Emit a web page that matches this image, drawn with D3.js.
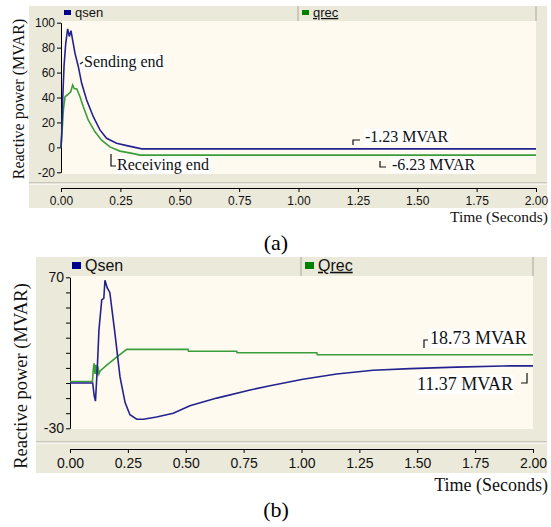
<!DOCTYPE html>
<html>
<head>
<meta charset="utf-8">
<script src="https://cdn.jsdelivr.net/npm/d3@7"></script>
<style>
  body { margin: 0; background: #fff; }
  svg { display: block; }
</style>
</head>
<body>
<svg id="chart" width="551" height="527"></svg>
<script>
// ---- data ----
const xTicks = [0, 0.25, 0.5, 0.75, 1.0, 1.25, 1.5, 1.75, 2.0];

// (a) sending / receiving end, seconds vs MVAR
const aTime = [0, 0.003, 0.007, 0.013, 0.02, 0.028, 0.035, 0.042, 0.049, 0.059, 0.073, 0.087, 0.108, 0.136, 0.164, 0.192, 0.234, 0.277, 0.34, 2.0];
const aQsen = [0, 11, 38, 66, 83.5, 95, 89, 93.6, 86, 75.4, 64.7, 51.4, 38, 24.6, 14, 7.3, 3.3, 1.4, -1.23, -1.23];
const aTimeRec = [0, 0.004, 0.01, 0.017, 0.031, 0.041, 0.049, 0.056, 0.066, 0.08, 0.094, 0.115, 0.143, 0.171, 0.206, 0.248, 0.305, 0.333, 2.0];
const aQrec = [0, 11, 30, 40.6, 42.7, 44.6, 50, 47, 47, 40.6, 32.6, 21.8, 12.5, 5.8, 0.4, -3, -5, -6.23, -6.23];
const aYTicks = [-20, 0, 20, 40, 60, 80, 100];

// (b)
const bTime = [0, 0.098, 0.104, 0.11, 0.118, 0.125, 0.137, 0.146, 0.151, 0.161, 0.172, 0.194, 0.216, 0.238, 0.259, 0.288, 0.317, 0.374, 0.446, 0.518, 0.634, 0.778, 0.864, 1.006, 1.152, 1.309, 1.469, 1.67, 1.87, 2.0];
const bQsen = [0, 0, -8, -12, 10, 35, 55, 56, 68, 63, 60, 33, 4, -13, -21, -24, -24, -22.5, -20, -15, -10, -4.6, -1.8, 2.5, 6, 8.4, 9.5, 10.5, 11.3, 11.37];
const bTimeRec = [0, 0.097, 0.1, 0.104, 0.108, 0.112, 0.116, 0.12, 0.125, 0.13, 0.16, 0.2, 0.245, 0.51, 0.512, 0.72, 0.722, 1.066, 1.068, 2.0];
const bQrec = [1, 1, 8, 13, 6, 12, 5, 11, 6, 8, 12, 17, 22.3, 22.3, 21, 21, 20, 20, 18.73, 18.73];
const bYTicks = [-30, -20, -10, 0, 10, 20, 30, 40, 50, 60, 70];
const bYLabels = [-30, 70];

const seriesNames = { a: ["qsen", "qrec"], b: ["Qsen", "Qrec"] };

const svg = d3.select("#chart");
const BEIGE = "#ebe9da", CREAM = "#fffaf0", BLUE = "#23238f", GREEN = "#3a9d3a";
const SANS = "'Liberation Sans', Arial, sans-serif", SERIF = "'Liberation Serif', 'Times New Roman', serif";

function drawPanel(p) {
    const g = svg.append("g");
    // frame
    g.append("rect").attr("x", p.fx0).attr("y", p.fy0)
        .attr("width", p.fx1 - p.fx0).attr("height", p.fy1 - p.fy0).attr("fill", BEIGE);
    // plot area
    g.append("rect").attr("x", p.px0).attr("y", p.py0)
        .attr("width", p.px1 - p.px0).attr("height", p.py1 - p.py0).attr("fill", CREAM);
    // legend bar dividers
    [p.div1, p.px1].forEach(d => {
        g.append("line").attr("x1", d).attr("x2", d).attr("y1", p.fy0).attr("y2", p.py0)
            .attr("stroke", "#a9a799").attr("stroke-width", 1);
    });
    g.append("line").attr("x1", p.fx0).attr("x2", p.fx1).attr("y1", p.sep).attr("y2", p.sep)
        .attr("stroke", "#a9a799");
    g.append("line").attr("x1", p.fx0).attr("x2", p.fx1).attr("y1", p.sep + 1).attr("y2", p.sep + 1)
        .attr("stroke", "#fff");

    // legend
    const legY = (p.fy0 + p.py0) / 2;
    [[p.leg1, "#00008b", p.names[0]], [p.leg2, "#008000", p.names[1]]].forEach(([lx, c, name], i) => {
        g.append("rect").attr("x", lx).attr("y", legY - p.sq / 2 - 1).attr("width", p.sq + 2).attr("height", p.sq)
            .attr("fill", c);
        const t = g.append("text").attr("x", lx + p.sq + 6).attr("y", legY)
            .attr("dominant-baseline", "middle").style("font-family", SANS).attr("font-size", p.legFont)
            .attr("fill", "#111").text(name);
        if (i === 1) t.attr("text-decoration", "underline");
    });

    const x = d3.scaleLinear().domain([0, 2]).range([p.xr0, p.xr1]);
    const y = d3.scaleLinear().domain(p.yDomain).range(p.yRange);

    // y axis
    const yAxis = g.append("g").attr("transform", `translate(${p.xr0},0)`)
        .call(d3.axisLeft(y).tickValues(p.yTicks).tickSize(4).tickSizeOuter(0)
            .tickFormat(d => p.yLabels.includes(d) ? d : ""));
    yAxis.select(".domain").attr("stroke", "#000");
    yAxis.selectAll("text").style("font-family", SANS).attr("font-size", p.tickFont).attr("fill", "#111").attr("dx", "1");

    // x axis
    const xAxis = g.append("g").attr("transform", `translate(0,${p.xAxisY})`)
        .call(d3.axisBottom(x).tickValues(xTicks).tickSize(4).tickSizeOuter(4).tickFormat(d3.format(".2f")));
    xAxis.select(".domain").attr("stroke", "#000");
    xAxis.selectAll("text").style("font-family", SANS).attr("font-size", p.tickFont).attr("fill", "#111").attr("dy", "0.85em");

    // lines
    const line = d3.line().x(d => x(d[0])).y(d => y(d[1]));
    const sen = p.tSen.map((t, i) => [t, p.vSen[i]]);
    const rec = p.tRec.map((t, i) => [t, p.vRec[i]]);
    g.append("path").datum(rec).attr("d", line).attr("fill", "none").attr("stroke", GREEN).attr("stroke-width", 1.6);
    g.append("path").datum(sen).attr("d", line).attr("fill", "none").attr("stroke", BLUE).attr("stroke-width", 1.6);

    // y label
    g.append("text").attr("transform", `translate(${p.ylx},${p.yly}) rotate(-90)`)
        .attr("text-anchor", "middle").attr("dominant-baseline", "middle")
        .style("font-family", SERIF).attr("font-size", p.ylFont).attr("fill", "#111")
        .text("Reactive power (MVAR)");
    // x label
    g.append("text").attr("x", p.fx1 + 1).attr("y", p.xly).attr("text-anchor", "end")
        .style("font-family", SERIF).attr("font-size", p.serifFont).attr("fill", "#111")
        .text("Time (Seconds)");
    // caption
    g.append("text").attr("x", 276).attr("y", p.capY).attr("text-anchor", "middle")
        .style("font-family", SERIF).attr("font-size", 22).attr("fill", "#000").text(p.caption);

    // annotations with white boxes and small pointer marks
    p.notes.forEach(n => {
        const t = g.append("text").attr("x", n.x).attr("y", n.y)
            .style("font-family", SERIF).attr("font-size", p.noteFont).attr("fill", "#111").text(n.text);
        const b = t.node().getBBox();
        g.insert("rect", () => t.node()).attr("x", b.x - 1).attr("y", b.y + 1)
            .attr("width", b.width + 2).attr("height", b.height - 1).attr("fill", "#fff");
        g.append("path").attr("d", n.mark).attr("fill", "none").attr("stroke", "#111").attr("stroke-width", 1.2);
    });
}

drawPanel({
    fx0: 29, fx1: 547, fy0: 6, fy1: 208,
    px0: 62, px1: 536, py0: 21, py1: 174,
    div1: 298, sep: 183, xAxisY: 188,
    leg1: 64, leg2: 302, sq: 5, legFont: 13,
    xr0: 61, xr1: 536, yDomain: [-20, 100], yRange: [172.3, 22.7],
    yTicks: aYTicks, yLabels: aYTicks, tickFont: 12,
    tSen: aTime, vSen: aQsen, tRec: aTimeRec, vRec: aQrec,
    names: seriesNames.a,
    ylx: 20, yly: 99, ylFont: 16, xly: 222, serifFont: 15.5, capY: 250, caption: "(a)",
    noteFont: 16,
    notes: [
        { text: "Sending end", x: 84, y: 67, mark: "M80,64 L83,62" },
        { text: "Receiving end", x: 117, y: 170, mark: "M111,154 L111,166 L116,166" },
        { text: "-1.23 MVAR", x: 365, y: 142, mark: "M353,145 L353,140 L360,140" },
        { text: "-6.23 MVAR", x: 392, y: 170, mark: "M380,161 L380,167 L386,167" }
    ]
});

drawPanel({
    fx0: 36, fx1: 547, fy0: 257, fy1: 473,
    px0: 71, px1: 533, py0: 276, py1: 429,
    div1: 301, sep: 442, xAxisY: 449,
    leg1: 72, leg2: 305, sq: 7, legFont: 16,
    xr0: 70, xr1: 533, yDomain: [-30, 70], yRange: [428.3, 277.3],
    yTicks: bYTicks, yLabels: bYLabels, tickFont: 14,
    tSen: bTime, vSen: bQsen, tRec: bTimeRec, vRec: bQrec,
    names: seriesNames.b,
    ylx: 23, yly: 376, ylFont: 18.5, xly: 491, serifFont: 18, capY: 517, caption: "(b)",
    noteFont: 18,
    notes: [
        { text: "18.73 MVAR", x: 430, y: 344, mark: "M424,348 L424,340 L428,340" },
        { text: "11.37 MVAR", x: 417, y: 390, mark: "M521,383 L527,383 L527,373" }
    ]
});
</script>
</body>
</html>
